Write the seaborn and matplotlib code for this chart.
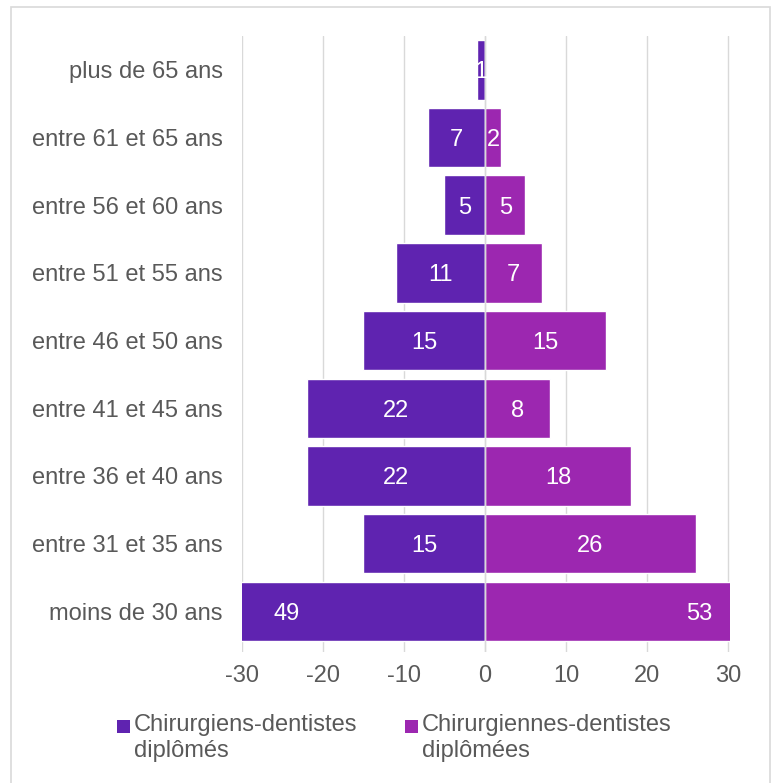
import numpy as np
import pandas as pd
import matplotlib.pyplot as plt
import seaborn as sns
from matplotlib.patches import Rectangle

# Data
age_groups = ["plus de 65 ans", "entre 61 et 65 ans", "entre 56 et 60 ans",
              "entre 51 et 55 ans", "entre 46 et 50 ans", "entre 41 et 45 ans",
              "entre 36 et 40 ans", "entre 31 et 35 ans", "moins de 30 ans"]
hommes = [1, 7, 5, 11, 15, 22, 22, 15, 49]
femmes = [0, 2, 5, 7, 15, 8, 18, 26, 53]
series_names = ["Chirurgiens-dentistes\ndiplômés", "Chirurgiennes-dentistes\ndiplômées"]
x_ticks = [-30, -20, -10, 0, 10, 20, 30]

col_h = "#5F23B0"
col_f = "#9C27B0"
grey = "#595959"
fs = 17

sns.set_style("white")
plt.rcParams['font.family'] = ['Liberation Sans', 'DejaVu Sans']

df = pd.DataFrame({
    "age": age_groups * 2,
    "valeur": [-v for v in hommes] + femmes,
    "serie": [series_names[0]] * len(hommes) + [series_names[1]] * len(femmes),
})

W, H = 775, 783
fig = plt.figure(figsize=(W / 100, H / 100), dpi=100)
ax = fig.add_axes([242 / W, 1 - 652 / H, 488 / W, (652 - 36) / H])

sns.barplot(data=df, y="age", x="valeur", hue="serie", order=age_groups,
            hue_order=series_names, palette=[col_h, col_f], dodge=False,
            width=0.88, saturation=1, ax=ax, legend=False, zorder=2)

ax.set_xlim(-30, 30.25)
ax.set_ylim(8.6, -0.5)
ax.set_xticks(x_ticks)
ax.set_xticklabels([str(t) for t in x_ticks])
ax.xaxis.grid(True, color="#d9d9d9", lw=1, zorder=0)
ax.set_axisbelow(True)
ax.axvline(0, color="#d9d9d9", lw=1, zorder=3)
ax.set_xlabel("")
ax.set_ylabel("")
ax.tick_params(axis="both", length=0, labelsize=fs, labelcolor=grey)
ax.tick_params(axis="x", pad=9)
ax.tick_params(axis="y", pad=14)
sns.despine(ax=ax, left=True, bottom=True)

# value labels, centred on each bar
for i, (h, f) in enumerate(zip(hommes, femmes)):
    if h:
        ax.text(-h / 2, i, str(h), ha="center", va="center_baseline",
                color="white", fontsize=fs, zorder=4)
    if f:
        ax.text(f / 2, i, str(f), ha="center", va="center_baseline",
                color="white", fontsize=fs, zorder=4)

# legend (square marker level with the first text line)
for x0, col, name in [(117, col_h, series_names[0]), (405, col_f, series_names[1])]:
    fig.patches.append(Rectangle((x0 / W, 1 - 733 / H), 13 / W, 13 / H,
                                 transform=fig.transFigure, color=col, lw=0))
    fig.text((x0 + 17) / W, 1 - 714 / H, name, ha="left", va="top",
             fontsize=fs, color=grey, linespacing=1.25)

# figure border
fig.patches.append(Rectangle((11 / W, -0.01), 759 / W, 1.01 - 7 / H,
                             transform=fig.transFigure, fill=False,
                             edgecolor="#d9d9d9", lw=1.2))

plt.savefig("out.png", dpi=100)
